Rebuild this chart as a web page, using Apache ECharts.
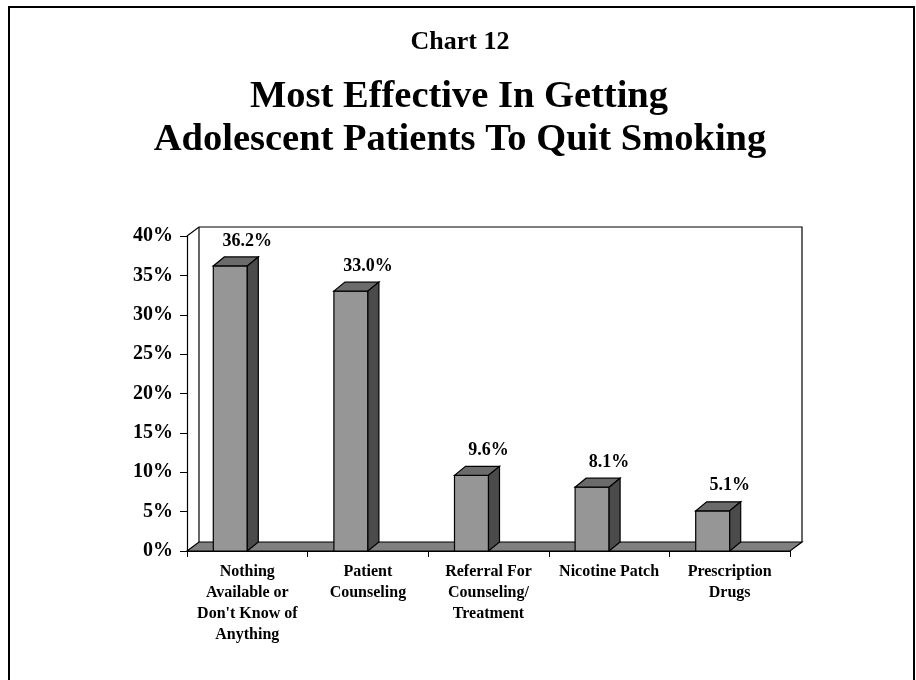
<!DOCTYPE html>
<html><head><meta charset="utf-8">
<script src="https://cdn.jsdelivr.net/npm/echarts@6/dist/echarts.min.js"></script>
<style>html,body{margin:0;padding:0;background:#fff}#c{width:916px;height:680px}</style>
</head><body><div id="c"></div>
<script>
const categories = [
  "Nothing\nAvailable or\nDon't Know of\nAnything",
  "Patient\nCounseling",
  "Referral For\nCounseling/\nTreatment",
  "Nicotine Patch",
  "Prescription\nDrugs"
];
const values = [36.2, 33.0, 9.6, 8.1, 5.1];
const yMin = 0, yMax = 40, yStep = 5;
const chartLabel = "Chart 12";
const titleLines = ["Most Effective In Getting", "Adolescent Patients To Quit Smoking"];

const FONT = '"Liberation Serif", "Times New Roman", serif';

function renderFrame(params, api) {
  const n = categories.length;
  const half = api.size([1, 0])[0] / 2;
  const a = api.coord([0, yMin]);
  const b = api.coord([n - 1, yMin]);
  const t = api.coord([0, yMax]);
  const xL = a[0] - half, xR = b[0] + half, y0 = a[1], yT = t[1];
  const DX = 12, DY = 9;
  return {
    type: 'group',
    children: [
      { type: 'polygon', shape: { points: [[xL, y0], [xL + DX, y0 - DY], [xR + DX, y0 - DY], [xR, y0]] },
        style: { fill: '#808080', stroke: '#000', lineWidth: 1.2 } },
      { type: 'polyline', shape: { points: [[xL, yT], [xL + DX, yT - DY], [xR + DX, yT - DY], [xR + DX, y0 - DY]] },
        style: { fill: null, stroke: '#000', lineWidth: 1.2 } },
      { type: 'line', shape: { x1: xL + DX, y1: yT - DY, x2: xL + DX, y2: y0 - DY },
        style: { stroke: '#000', lineWidth: 1.2 } }
    ]
  };
}

function renderBar(params, api) {
  const ci = api.value(0), v = api.value(1);
  const base = api.coord([ci, yMin]);
  const top = api.coord([ci, v]);
  const cx = base[0];
  const w = 34, dx = 11, dy = 9;
  const x0 = cx - w, x1 = cx, yb = base[1], yt = top[1];
  return {
    type: 'group',
    children: [
      { type: 'polygon', shape: { points: [[x0, yb], [x1, yb], [x1, yt], [x0, yt]] },
        style: { fill: '#969696', stroke: '#000', lineWidth: 1.2 } },
      { type: 'polygon', shape: { points: [[x0, yt], [x1, yt], [x1 + dx, yt - dy], [x0 + dx, yt - dy]] },
        style: { fill: '#6b6b6b', stroke: '#000', lineWidth: 1.2 } },
      { type: 'polygon', shape: { points: [[x1, yb], [x1 + dx, yb - dy], [x1 + dx, yt - dy], [x1, yt]] },
        style: { fill: '#4b4b4b', stroke: '#000', lineWidth: 1.2 } },
      { type: 'text', style: { text: v.toFixed(1) + '%', x: cx, y: yt - 25, align: 'center', verticalAlign: 'middle',
        font: 'bold 18px ' + FONT, fill: '#000' } }
    ]
  };
}

const chart = echarts.init(document.getElementById('c'), null, { renderer: 'canvas' });
chart.setOption({
  animation: false,
  backgroundColor: '#fff',
  graphic: [
    { type: 'rect', shape: { x: 9, y: 7, width: 905, height: 720 }, style: { fill: null, stroke: '#000', lineWidth: 2 }, z: 0 },
    { type: 'text', style: { text: chartLabel, x: 460, y: 42, align: 'center', verticalAlign: 'middle', font: 'bold 26px ' + FONT, fill: '#000' } },
    { type: 'text', style: { text: titleLines[0], x: 459, y: 97, align: 'center', verticalAlign: 'middle', font: 'bold 38.5px ' + FONT, fill: '#000' } },
    { type: 'text', style: { text: titleLines[1], x: 460, y: 140, align: 'center', verticalAlign: 'middle', font: 'bold 38.5px ' + FONT, fill: '#000' } }
  ],
  grid: { left: 187, right: 126, top: 236, bottom: 129, containLabel: false },
  xAxis: {
    type: 'category',
    data: categories,
    boundaryGap: true,
    axisLine: { show: true, lineStyle: { color: '#000', width: 1.2 } },
    axisTick: { show: true, length: 6, lineStyle: { color: '#000' } },
    axisLabel: { interval: 0, margin: 10, color: '#000', fontFamily: FONT, fontWeight: 'bold', fontSize: 16, lineHeight: 21, align: 'center' },
    splitLine: { show: false }
  },
  yAxis: {
    type: 'value',
    min: yMin, max: yMax, interval: yStep,
    axisLine: { show: true, lineStyle: { color: '#000', width: 1.2 } },
    axisTick: { show: true, length: 7, lineStyle: { color: '#000' } },
    axisLabel: { margin: 14, color: '#000', fontFamily: FONT, fontWeight: 'bold', fontSize: 20, formatter: '{value}%' },
    splitLine: { show: false }
  },
  series: [
    { type: 'custom', name: 'frame', renderItem: renderFrame, data: [[0, 0]], z: 1, silent: true, clip: false },
    { type: 'custom', name: 'bars', renderItem: renderBar, data: values.map((v, i) => [i, v]), z: 2, silent: true, clip: false }
  ]
});
</script>
</body></html>
